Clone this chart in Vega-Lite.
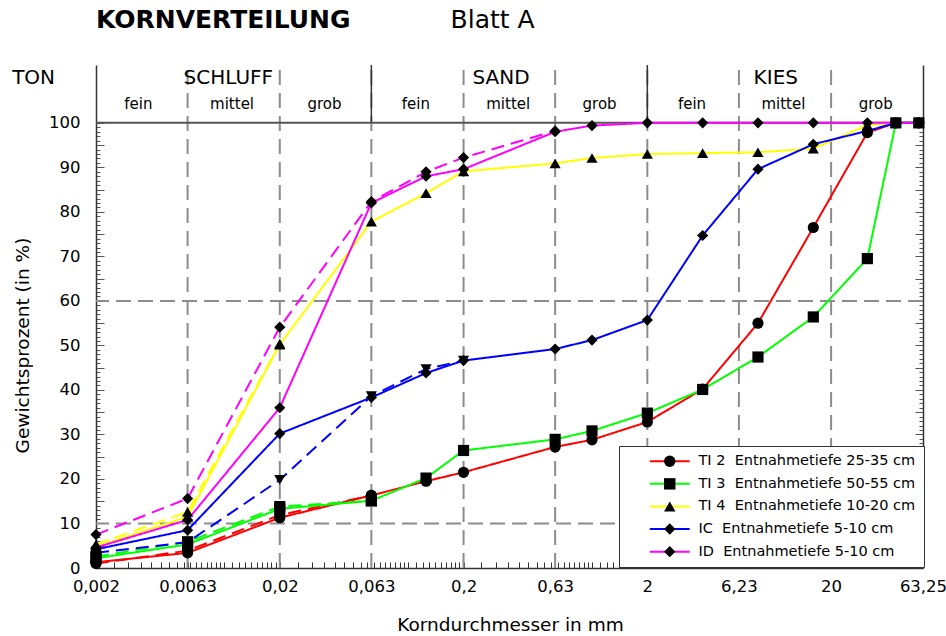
{
  "$schema": "https://vega.github.io/schema/vega-lite/v6.json",
  "width": 827,
  "height": 503,
  "autosize": {"type": "none"},
  "padding": {"left": 96, "top": 65, "right": 23, "bottom": 68},
  "background": "white",
  "config": {"font": "DejaVu Sans", "view": {"stroke": null}, "axis": {"grid": false, "labelOverlap": false}},
  "datasets": {
    "kurven": [
      {"probe": "TI 2", "kurve": "a", "d": 0.002, "p": 1.3},
      {"probe": "TI 2", "kurve": "a", "d": 0.0063, "p": 3.4},
      {"probe": "TI 2", "kurve": "a", "d": 0.02, "p": 11.3},
      {"probe": "TI 2", "kurve": "a", "d": 0.063, "p": 16.3},
      {"probe": "TI 2", "kurve": "a", "d": 0.125, "p": 19.5},
      {"probe": "TI 2", "kurve": "a", "d": 0.2, "p": 21.5},
      {"probe": "TI 2", "kurve": "a", "d": 0.63, "p": 27.2},
      {"probe": "TI 2", "kurve": "a", "d": 1, "p": 28.8},
      {"probe": "TI 2", "kurve": "a", "d": 2, "p": 32.8},
      {"probe": "TI 2", "kurve": "a", "d": 4, "p": 40.2},
      {"probe": "TI 2", "kurve": "a", "d": 8, "p": 55.0},
      {"probe": "TI 2", "kurve": "a", "d": 16, "p": 76.5},
      {"probe": "TI 2", "kurve": "a", "d": 31.5, "p": 97.8},
      {"probe": "TI 2", "kurve": "a", "d": 45, "p": 100},
      {"probe": "TI 2", "kurve": "a", "d": 60, "p": 100},
      {"probe": "TI 2", "kurve": "b", "d": 0.002, "p": 1.0},
      {"probe": "TI 2", "kurve": "b", "d": 0.0063, "p": 3.9},
      {"probe": "TI 2", "kurve": "b", "d": 0.02, "p": 11.9},
      {"probe": "TI 2", "kurve": "b", "d": 0.063, "p": 16.3},
      {"probe": "TI 3", "kurve": "a", "d": 0.002, "p": 2.2},
      {"probe": "TI 3", "kurve": "a", "d": 0.0063, "p": 5.3},
      {"probe": "TI 3", "kurve": "a", "d": 0.02, "p": 13.3},
      {"probe": "TI 3", "kurve": "a", "d": 0.063, "p": 15.1},
      {"probe": "TI 3", "kurve": "a", "d": 0.125, "p": 20.2},
      {"probe": "TI 3", "kurve": "a", "d": 0.2, "p": 26.4},
      {"probe": "TI 3", "kurve": "a", "d": 0.63, "p": 28.9},
      {"probe": "TI 3", "kurve": "a", "d": 1, "p": 30.8},
      {"probe": "TI 3", "kurve": "a", "d": 2, "p": 34.8},
      {"probe": "TI 3", "kurve": "a", "d": 4, "p": 40.1},
      {"probe": "TI 3", "kurve": "a", "d": 8, "p": 47.4},
      {"probe": "TI 3", "kurve": "a", "d": 16, "p": 56.4},
      {"probe": "TI 3", "kurve": "a", "d": 31.5, "p": 69.5},
      {"probe": "TI 3", "kurve": "a", "d": 45, "p": 100},
      {"probe": "TI 3", "kurve": "a", "d": 60, "p": 100},
      {"probe": "TI 3", "kurve": "b", "d": 0.002, "p": 2.6},
      {"probe": "TI 3", "kurve": "b", "d": 0.0063, "p": 5.9},
      {"probe": "TI 3", "kurve": "b", "d": 0.02, "p": 13.8},
      {"probe": "TI 3", "kurve": "b", "d": 0.063, "p": 15.1},
      {"probe": "TI 4", "kurve": "a", "d": 0.002, "p": 4.8},
      {"probe": "TI 4", "kurve": "a", "d": 0.0063, "p": 11.5},
      {"probe": "TI 4", "kurve": "a", "d": 0.02, "p": 50.2},
      {"probe": "TI 4", "kurve": "a", "d": 0.063, "p": 77.8},
      {"probe": "TI 4", "kurve": "a", "d": 0.125, "p": 84.2},
      {"probe": "TI 4", "kurve": "a", "d": 0.2, "p": 89.1},
      {"probe": "TI 4", "kurve": "a", "d": 0.63, "p": 90.9},
      {"probe": "TI 4", "kurve": "a", "d": 1, "p": 92.1},
      {"probe": "TI 4", "kurve": "a", "d": 2, "p": 93.0},
      {"probe": "TI 4", "kurve": "a", "d": 4, "p": 93.2},
      {"probe": "TI 4", "kurve": "a", "d": 8, "p": 93.4},
      {"probe": "TI 4", "kurve": "a", "d": 16, "p": 94.2},
      {"probe": "TI 4", "kurve": "a", "d": 31.5, "p": 99.5},
      {"probe": "TI 4", "kurve": "a", "d": 45, "p": 100},
      {"probe": "TI 4", "kurve": "a", "d": 60, "p": 100},
      {"probe": "TI 4", "kurve": "b", "d": 0.002, "p": 5.3},
      {"probe": "TI 4", "kurve": "b", "d": 0.0063, "p": 12.6},
      {"probe": "TI 4", "kurve": "b", "d": 0.02, "p": 50.4},
      {"probe": "IC", "kurve": "a", "d": 0.002, "p": 4.2},
      {"probe": "IC", "kurve": "a", "d": 0.0063, "p": 8.5},
      {"probe": "IC", "kurve": "a", "d": 0.02, "p": 30.2},
      {"probe": "IC", "kurve": "a", "d": 0.063, "p": 38.3},
      {"probe": "IC", "kurve": "a", "d": 0.125, "p": 43.8},
      {"probe": "IC", "kurve": "a", "d": 0.2, "p": 46.6},
      {"probe": "IC", "kurve": "a", "d": 0.63, "p": 49.2},
      {"probe": "IC", "kurve": "a", "d": 1, "p": 51.2},
      {"probe": "IC", "kurve": "a", "d": 2, "p": 55.7},
      {"probe": "IC", "kurve": "a", "d": 4, "p": 74.7},
      {"probe": "IC", "kurve": "a", "d": 8, "p": 89.6},
      {"probe": "IC", "kurve": "a", "d": 16, "p": 95.2},
      {"probe": "IC", "kurve": "a", "d": 31.5, "p": 98.2},
      {"probe": "IC", "kurve": "a", "d": 45, "p": 100},
      {"probe": "IC", "kurve": "a", "d": 60, "p": 100},
      {"probe": "IC", "kurve": "b", "d": 0.002, "p": 3.4},
      {"probe": "IC", "kurve": "b", "d": 0.0063, "p": 5.8},
      {"probe": "IC", "kurve": "b", "d": 0.02, "p": 19.8},
      {"probe": "IC", "kurve": "b", "d": 0.063, "p": 38.6},
      {"probe": "IC", "kurve": "b", "d": 0.125, "p": 44.7},
      {"probe": "IC", "kurve": "b", "d": 0.2, "p": 46.6},
      {"probe": "ID", "kurve": "a", "d": 0.002, "p": 4.6},
      {"probe": "ID", "kurve": "a", "d": 0.0063, "p": 10.8},
      {"probe": "ID", "kurve": "a", "d": 0.02, "p": 36.0},
      {"probe": "ID", "kurve": "a", "d": 0.063, "p": 82.0},
      {"probe": "ID", "kurve": "a", "d": 0.125, "p": 88.0},
      {"probe": "ID", "kurve": "a", "d": 0.2, "p": 89.6},
      {"probe": "ID", "kurve": "a", "d": 0.63, "p": 98.0},
      {"probe": "ID", "kurve": "a", "d": 1, "p": 99.4},
      {"probe": "ID", "kurve": "a", "d": 2, "p": 100},
      {"probe": "ID", "kurve": "a", "d": 4, "p": 100},
      {"probe": "ID", "kurve": "a", "d": 8, "p": 100},
      {"probe": "ID", "kurve": "a", "d": 16, "p": 100},
      {"probe": "ID", "kurve": "a", "d": 31.5, "p": 100},
      {"probe": "ID", "kurve": "a", "d": 45, "p": 100},
      {"probe": "ID", "kurve": "a", "d": 60, "p": 100},
      {"probe": "ID", "kurve": "b", "d": 0.002, "p": 7.5},
      {"probe": "ID", "kurve": "b", "d": 0.0063, "p": 15.6},
      {"probe": "ID", "kurve": "b", "d": 0.02, "p": 54.1},
      {"probe": "ID", "kurve": "b", "d": 0.063, "p": 82.3},
      {"probe": "ID", "kurve": "b", "d": 0.125, "p": 89.0},
      {"probe": "ID", "kurve": "b", "d": 0.2, "p": 92.2},
      {"probe": "ID", "kurve": "b", "d": 0.63, "p": 98.2}
    ],
    "grenzen": [
      {"d": 0.0063, "art": "unter"},
      {"d": 0.02, "art": "unter"},
      {"d": 0.063, "art": "haupt"},
      {"d": 0.2, "art": "unter"},
      {"d": 0.63, "art": "unter"},
      {"d": 2, "art": "haupt"},
      {"d": 6.3, "art": "unter"},
      {"d": 20, "art": "unter"}
    ],
    "linien": [
      {"p": 10, "art": "strich"},
      {"p": 60, "art": "strich"},
      {"p": 100, "art": "voll"}
    ],
    "texte": [
      {"t": "KORNVERTEILUNG", "d": 0.002, "p": 123.1, "art": "titel_fett"},
      {"t": "Blatt A", "d": 0.17, "p": 123.1, "art": "titel"},
      {"t": "TON", "d": 0.000915, "p": 110.1, "art": "haupt"},
      {"t": "SCHLUFF", "d": 0.0105, "p": 110.1, "art": "haupt"},
      {"t": "SAND", "d": 0.32, "p": 110.1, "art": "haupt"},
      {"t": "KIES", "d": 10.0, "p": 110.1, "art": "haupt"},
      {"t": "fein", "d": 0.0034, "p": 104.3, "art": "unter"},
      {"t": "mittel", "d": 0.011, "p": 104.3, "art": "unter"},
      {"t": "grob", "d": 0.035, "p": 104.3, "art": "unter"},
      {"t": "fein", "d": 0.11, "p": 104.3, "art": "unter"},
      {"t": "mittel", "d": 0.35, "p": 104.3, "art": "unter"},
      {"t": "grob", "d": 1.1, "p": 104.3, "art": "unter"},
      {"t": "fein", "d": 3.5, "p": 104.3, "art": "unter"},
      {"t": "mittel", "d": 11.0, "p": 104.3, "art": "unter"},
      {"t": "grob", "d": 35.0, "p": 104.3, "art": "unter"}
    ]
  },
  "layer": [
    {
      "layer": [
        {
          "data": {"name": "grenzen"},
          "mark": {"type": "rule", "color": "#8c8c8c", "strokeWidth": 2, "strokeDash": [15, 8]},
          "encoding": {
            "x": {"field": "d", "type": "quantitative", "scale": {"type": "log", "domain": [0.002, 63.25], "nice": false}},
            "y": {"datum": 0, "type": "quantitative"},
            "y2": {"datum": 113}
          }
        },
        {
          "data": {"name": "grenzen"},
          "transform": [{"filter": "datum.art === 'haupt'"}],
          "mark": {"type": "rule", "color": "#333333", "strokeWidth": 1.5},
          "encoding": {
            "x": {"field": "d", "type": "quantitative", "scale": {"type": "log", "domain": [0.002, 63.25], "nice": false}},
            "y": {"datum": 100, "type": "quantitative"},
            "y2": {"datum": 113}
          }
        },
        {
          "data": {"name": "linien"},
          "transform": [{"filter": "datum.art === 'strich'"}],
          "mark": {"type": "rule", "color": "#8c8c8c", "strokeWidth": 2, "strokeDash": [15, 7]},
          "encoding": {"y": {"field": "p", "type": "quantitative"}}
        },
        {
          "data": {"name": "linien"},
          "transform": [{"filter": "datum.art === 'voll'"}],
          "mark": {"type": "rule", "color": "#555555", "strokeWidth": 2},
          "encoding": {"y": {"field": "p", "type": "quantitative"}}
        },
        {
          "data": {"name": "kurven"},
          "mark": {"type": "line", "strokeWidth": 2},
          "encoding": {
            "x": {
              "field": "d", "type": "quantitative",
              "scale": {"type": "log", "domain": [0.002, 63.25], "nice": false},
              "axis": {
                "values": [0.002,0.0025,0.003,0.0035,0.004,0.0045,0.005,0.0055,0.006,0.0063,0.0065,0.007,0.0075,0.008,0.0085,0.009,0.0095,0.01,0.011,0.012,0.013,0.014,0.015,0.016,0.017,0.018,0.019,0.02,0.025,0.03,0.035,0.04,0.045,0.05,0.055,0.06,0.063,0.065,0.07,0.075,0.08,0.085,0.09,0.095,0.1,0.11,0.12,0.13,0.14,0.15,0.16,0.17,0.18,0.19,0.2,0.25,0.3,0.35,0.4,0.45,0.5,0.55,0.6,0.63,0.65,0.7,0.75,0.8,0.85,0.9,0.95,1,1.1,1.2,1.3,1.4,1.5,1.6,1.7,1.8,1.9,2,2.5,3,3.5,4,4.5,5,5.5,6,6.3,6.5,7,7.5,8,8.5,9,9.5,10,11,12,13,14,15,16,17,18,19,20,25,30,35,40,45,50,55,60,63.25],
                "labelExpr": "{'0.002':'0,002','0.0063':'0,0063','0.02':'0,02','0.063':'0,063','0.2':'0,2','0.63':'0,63','2':'2','6.3':'6,23','20':'20','63.25':'63,25'}[''+datum.value] || ''",
                "labelOverlap": false,
                "labelFlush": false,
                "labelFontSize": 16.5,
                "labelColor": "black",
                "labelPadding": 16,
                "tickSize": -6,
                "tickColor": "#333333",
                "tickWidth": 1,
                "domainColor": "#333333",
                "domainWidth": 1.5,
                "title": "Korndurchmesser in mm",
                "titleFontSize": 18.5,
                "titleFontWeight": "normal",
                "titleColor": "black",
                "titleX": 414,
                "titleY": 56,
                "titleBaseline": "middle",
                "titleAlign": "center"
              }
            },
            "y": {
              "field": "p", "type": "quantitative",
              "scale": {"domain": [0, 113], "nice": false, "zero": false},
              "axis": {
                "values": [0, 10, 20, 30, 40, 50, 60, 70, 80, 90, 100],
                "labelOverlap": false,
                "labelFlush": false,
                "labelFontSize": 16.5,
                "labelColor": "black",
                "labelPadding": 16,
                "ticks": false,
                "domainColor": "#333333",
                "domainWidth": 1.5,
                "title": "Gewichtsprozent (in %)",
                "titleFontSize": 18.5,
                "titleFontWeight": "normal",
                "titleColor": "black",
                "titleAngle": 270,
                "titleX": -74,
                "titleY": 280,
                "titleBaseline": "middle",
                "titleAlign": "center"
              }
            },
            "color": {
              "field": "probe", "type": "nominal",
              "scale": {"domain": ["TI 2", "TI 3", "TI 4", "IC", "ID"], "range": ["#ff0000", "#00ff00", "#ffff00", "#0000ff", "#ff00ff"]},
              "legend": {
                "orient": "none", "legendX": 523, "legendY": 381, "title": null, "direction": "vertical",
                "symbolType": "M-3.5,0H3.5", "symbolSize": 130, "symbolStrokeWidth": 2,
                "labelFontSize": 14.5, "labelColor": "black", "labelLimit": 400,
                "labelExpr": "{'TI 2':'TI 2\u00a0 Entnahmetiefe 25-35 cm','TI 3':'TI 3\u00a0 Entnahmetiefe 50-55 cm','TI 4':'TI 4\u00a0 Entnahmetiefe 10-20 cm','IC':'IC\u00a0 Entnahmetiefe 5-10 cm','ID':'ID\u00a0 Entnahmetiefe 5-10 cm'}[datum.label]",
                "padding": 8, "symbolOffset": 35.5, "labelOffset": 21.5, "rowPadding": 7.6,
                "fillColor": "white", "strokeColor": "#333333", "zindex": 1
              }
            },
            "strokeDash": {
              "field": "kurve", "type": "nominal",
              "scale": {"domain": ["a", "b"], "range": [[1, 0], [13, 7]]},
              "legend": null
            }
          }
        },
        {
          "data": {"name": "kurven"},
          "mark": {"type": "point", "filled": true, "color": "black", "opacity": 1, "size": 125},
          "encoding": {
            "x": {"field": "d", "type": "quantitative", "scale": {"type": "log", "domain": [0.002, 63.25], "nice": false}},
            "y": {"field": "p", "type": "quantitative"},
            "shape": {
              "field": "probe", "type": "nominal",
              "sort": ["TI 2", "TI 3", "TI 4", "IC", "ID"],
              "scale": {"range": ["circle", "square", "triangle-up", "diamond", "diamond"]},
              "condition": {"test": "datum.probe === 'IC' && datum.kurve === 'b'", "value": "triangle-down"},
              "legend": {
                "orient": "none", "legendX": 523, "legendY": 381, "title": null, "direction": "vertical",
                "symbolSize": 130, "symbolStrokeWidth": 0, "symbolFillColor": "black", "symbolStrokeColor": "black",
                "labelFontSize": 14.5, "labelOpacity": 0, "labelLimit": 400, "labelExpr": "''",
                "padding": 8, "symbolOffset": 35.5, "labelOffset": 21.5, "rowPadding": 7.6,
                "zindex": 2
              }
            }
          }
        },
        {
          "data": {"name": "texte"},
          "transform": [{"filter": "datum.art === 'haupt'"}],
          "mark": {"type": "text", "fontSize": 20, "color": "black", "align": "center", "baseline": "middle"},
          "encoding": {
            "x": {"field": "d", "type": "quantitative", "scale": {"type": "log", "domain": [0.002, 63.25], "nice": false}},
            "y": {"field": "p", "type": "quantitative"},
            "text": {"field": "t"}
          }
        },
        {
          "data": {"name": "texte"},
          "transform": [{"filter": "datum.art === 'unter'"}],
          "mark": {"type": "text", "fontSize": 15, "color": "black", "align": "center", "baseline": "middle"},
          "encoding": {
            "x": {"field": "d", "type": "quantitative", "scale": {"type": "log", "domain": [0.002, 63.25], "nice": false}},
            "y": {"field": "p", "type": "quantitative"},
            "text": {"field": "t"}
          }
        },
        {
          "data": {"name": "texte"},
          "transform": [{"filter": "datum.art === 'titel_fett'"}],
          "mark": {"type": "text", "fontSize": 25, "fontWeight": "bold", "color": "black", "align": "left", "baseline": "middle"},
          "encoding": {
            "x": {"field": "d", "type": "quantitative", "scale": {"type": "log", "domain": [0.002, 63.25], "nice": false}},
            "y": {"field": "p", "type": "quantitative"},
            "text": {"field": "t"}
          }
        },
        {
          "data": {"name": "texte"},
          "transform": [{"filter": "datum.art === 'titel'"}],
          "mark": {"type": "text", "fontSize": 25, "color": "black", "align": "left", "baseline": "middle"},
          "encoding": {
            "x": {"field": "d", "type": "quantitative", "scale": {"type": "log", "domain": [0.002, 63.25], "nice": false}},
            "y": {"field": "p", "type": "quantitative"},
            "text": {"field": "t"}
          }
        }
      ]
    },
    {
      "data": {"name": "linien"},
      "mark": {"type": "rule", "opacity": 0},
      "encoding": {
        "y": {
          "field": "p", "type": "quantitative",
          "scale": {"domain": [0, 113], "nice": false, "zero": false},
          "axis": {
            "orient": "right",
            "values": [0,1,2,3,4,5,6,7,8,9,10,11,12,13,14,15,16,17,18,19,20,21,22,23,24,25,26,27,28,29,30,31,32,33,34,35,36,37,38,39,40,41,42,43,44,45,46,47,48,49,50,51,52,53,54,55,56,57,58,59,60,61,62,63,64,65,66,67,68,69,70,71,72,73,74,75,76,77,78,79,80,81,82,83,84,85,86,87,88,89,90,91,92,93,94,95,96,97,98,99,100],
            "labels": false,
            "ticks": false,
            "title": null,
            "grid": true,
            "gridColor": "#555555",
            "gridWidth": 1,
            "gridDash": {"condition": {"test": "datum.value % 5 === 0", "value": [8, 811, 8]}, "value": [4, 819, 4]},
            "domainColor": "#333333",
            "domainWidth": 1.5
          }
        }
      }
    }
  ],
  "resolve": {"scale": {"y": "independent"}}
}
